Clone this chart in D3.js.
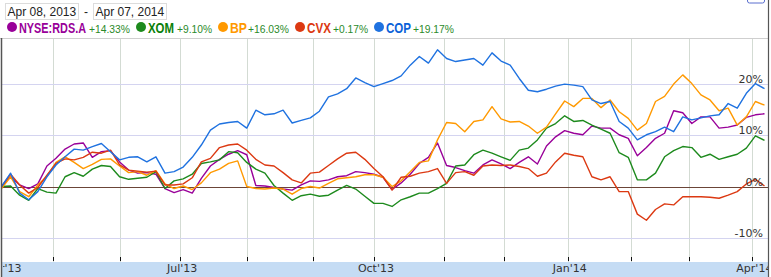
<!DOCTYPE html>
<html>
<head>
<meta charset="utf-8">
<script src="https://cdnjs.cloudflare.com/ajax/libs/d3/7.8.5/d3.min.js"></script>
<style>
  body { margin: 0; background: #fff; }
  svg { display: block; }
</style>
</head>
<body>
<div id="chart"></div>
<script>
// trading-session index of each sample (Apr 08 2013 = 0, every 3rd session)
const days = d3.range(0, 253, 3);

// % change since Apr 08 2013
const rdsa = [0.1, 2.0, 0.4, -0.3, 0.6, 4.1, 5.6, 7.4, 8.4, 8.6,
  5.8, 6.9, 7.1, 4.9, 3.3, 2.7, 2.8, 2.5, -0.3, -1.1,
  -0.5, -1.2, 1.7, 4.1, 5.4, 6.4, 7.1, 6.3, 0.3, 0.2,
  -0.1, -0.4, -0.6, 0.4, 1.2, 1.1, 1.4, 2.0, 2.2, 3.0,
  2.8, 2.5, 1.9, -0.5, 0.8, 2.5, 4.6, 5.8, 8.6, 4.2,
  3.8, 3.2, 2.7, 4.3, 5.3, 4.5, 3.6, 4.8, 5.9, 4.5,
  8.0, 9.8, 11.0, 10.5, 10.2, 11.9, 11.5, 11.5, 10.2, 9.5,
  6.1, 7.7, 9.5, 10.5, 14.9, 14.5, 12.4, 13.7, 13.7, 11.5,
  11.7, 12.1, 13.6, 14.1, 14.3];
const xom = [0.1, 0.2, -1.6, -2.6, -0.3, -1.0, -1.2, 2.0, 2.8, 2.1,
  3.5, 4.2, 4.0, 2.0, 1.5, 1.7, 1.9, 3.0, -0.3, 1.2,
  1.6, 2.5, 4.6, 4.9, 5.3, 6.9, 6.7, 4.8, 3.5, 2.7,
  0.3, -1.2, -2.6, -1.7, -1.4, -1.8, -1.6, -0.6, 0.3, -0.4,
  -1.8, -3.2, -3.2, -3.8, -2.5, -1.9, -1.2, -1.2, -0.3, 0.7,
  4.1, 4.3, 6.3, 7.2, 6.6, 5.9, 5.2, 7.2, 7.6, 9.2,
  11.5, 12.4, 13.9, 12.8, 13.0, 12.1, 11.3, 10.5, 6.7, 5.8,
  1.4, 1.4, 2.7, 5.9, 7.1, 7.9, 7.7, 5.8, 6.4, 5.4,
  5.9, 6.4, 7.6, 10.0, 9.1];
const bp = [-0.3, 2.0, -0.9, -1.9, 0.4, 2.1, 4.8, 5.9, 4.8, 3.6,
  4.4, 5.4, 5.5, 4.1, 2.8, 3.0, 2.3, 3.2, 0.6, -0.3,
  0.2, -0.5, 0.8, 2.8, 3.5, 4.6, 5.1, 0.1, -0.3, -0.4,
  -0.2, -0.4, -1.4, -0.3, 0.1, -0.2, 0.7, 1.6, 1.8, 2.0,
  2.4, 2.4, 1.9, 0.1, 1.2, 3.0, 4.8, 5.1, 9.2, 12.6,
  12.4, 10.8, 12.8, 13.1, 15.7, 13.3, 12.7, 12.8, 11.9, 10.5,
  11.7, 14.3, 16.8, 15.7, 17.3, 17.3, 15.5, 17.0, 14.7, 13.4,
  11.1, 12.4, 16.7, 17.7, 20.1, 21.9, 20.2, 18.0, 17.0, 14.9,
  15.4, 12.1, 13.7, 16.7, 16.0];
const cvx = [0.1, 2.5, 0.4, -1.2, -0.1, 2.3, 4.6, 5.5, 5.3, 5.8,
  6.8, 6.6, 7.2, 4.3, 3.3, 3.1, 2.9, 3.1, 0.4, 0.4,
  0.6, 1.8, 4.9, 5.6, 7.7, 8.2, 8.4, 7.2, 5.4, 4.3,
  4.1, 2.8, 1.4, 0.8, 2.7, 2.9, 4.2, 5.5, 6.6, 6.8,
  5.4, 3.6, 2.0, -0.6, 1.9, 2.1, 2.7, 3.0, 3.6, 0.7,
  2.8, 3.0, 2.3, 4.1, 4.3, 4.2, 4.3, 4.0, 3.6, 2.1,
  2.7, 4.9, 6.6, 6.2, 5.9, 2.0, 1.4, 2.0, -0.9, -0.9,
  -5.3, -6.5, -4.4, -3.3, -3.5, -1.9, -1.9, -1.9, -2.0, -2.2,
  -1.6, -0.9, 0.6, 1.5, 0.2];
const cop = [0.1, 2.7, -1.2, -2.5, -0.9, 2.0, 4.3, 5.9, 7.4, 7.2,
  7.9, 8.5, 6.9, 5.3, 5.8, 5.9, 4.9, 5.9, 2.7, 3.0,
  3.9, 5.8, 8.2, 11.1, 12.3, 12.6, 12.8, 11.5, 15.0, 14.1,
  14.3, 15.0, 12.5, 13.0, 13.5, 14.8, 17.6, 18.2, 19.2, 21.3,
  20.4, 19.6, 20.2, 20.8, 21.7, 23.8, 25.5, 24.2, 26.8, 25.1,
  24.5, 24.8, 25.1, 23.8, 26.2, 24.6, 23.8, 21.2, 18.9, 18.6,
  19.1, 19.7, 20.1, 19.9, 19.6, 17.0, 16.3, 16.7, 12.8, 11.5,
  9.2, 10.2, 10.8, 11.7, 10.8, 13.7, 13.1, 13.5, 13.9, 14.1,
  16.3, 15.4, 18.3, 20.2, 19.2];

const names = ["NYSE:RDS.A", "XOM", "BP", "CVX", "COP"];
const changes = ["+14.33%", "+9.10%", "+16.03%", "+0.17%", "+19.17%"];
const colors = ["#990099", "#1d8a1d", "#ff9900", "#dc3912", "#1f72e0"];
const textColors = ["#990099", "#0a7f0a", "#ff9900", "#dc3912", "#0b62d8"];

// first session of each month, and quarter labels
const monthStarts = [0, 17, 39, 59, 81, 103, 123, 146, 166, 187, 208, 227, 248];
const quarterTicks = [0, 59, 123, 187, 248];
const quarterLabels = ["Apr'13", "Jul'13", "Oct'13", "Jan'14", "Apr'14"];
const yTicks = [20, 10, 0, -10];

const dateFrom = "Apr 08, 2013";
const dateTo = "Apr 07, 2014";

const width = 771, height = 277;
const plotTop = 38, plotBottom = 262, plotLeft = 2, plotRight = 768;

let svg = d3.select("#chart").append("svg")
  .attr("width", width)
  .attr("height", height);

let x = d3.scaleLinear().domain([0, 252]).range([1.5, 764.5]);
let y = d3.scaleLinear().domain([-10, 20]).range([238.2, 84.6]);

let defs = svg.append("defs");
defs.append("clipPath").attr("id", "plot")
  .append("rect")
  .attr("x", plotLeft).attr("y", plotTop)
  .attr("width", plotRight - plotLeft).attr("height", plotBottom - plotTop);
defs.append("clipPath").attr("id", "band")
  .append("rect").attr("x", 3).attr("y", plotBottom)
  .attr("width", plotRight - 3).attr("height", 20);

// date range boxes
let hdr = svg.append("g").style("font-family", "'Liberation Sans', Arial, sans-serif").style("font-size", "12px");
[[5, dateFrom], [93, dateTo]].forEach(([bx, t]) => {
  hdr.append("rect").attr("x", bx + 0.5).attr("y", 3.5).attr("width", 73).attr("height", 16)
    .attr("fill", "#fff").attr("stroke", "#dcdcdc");
  hdr.append("text").attr("x", bx + 2.5).attr("y", 16).attr("fill", "#222").text(t);
});
hdr.append("text").attr("x", 84).attr("y", 16).attr("fill", "#222").text("-");

// partial button at top right
svg.append("rect").attr("x", 747.5).attr("y", -8).attr("width", 17).attr("height", 11)
  .attr("rx", 2).attr("fill", "#fff").attr("stroke", "#5a6fcf");

// legend
const legendPos = [
  { cx: 12, nx: 19, nw: 67, px: 89, pw: 41 },
  { cx: 141, nx: 148, nw: 26, px: 177, pw: 35 },
  { cx: 223, nx: 230, nw: 17, px: 248, pw: 41 },
  { cx: 300, nx: 307, nw: 24, px: 333, pw: 35 },
  { cx: 379, nx: 386, nw: 25, px: 413, pw: 41 }
];
let legend = svg.append("g");
names.forEach((n, i) => {
  let p = legendPos[i];
  legend.append("circle").attr("cx", p.cx).attr("cy", 27).attr("r", 5).attr("fill", colors[i]);
  legend.append("text").attr("x", p.nx).attr("y", 32.5)
    .attr("textLength", p.nw).attr("lengthAdjust", "spacingAndGlyphs")
    .style("font-family", "'Liberation Sans Narrow', 'Arial Narrow', 'Liberation Sans', sans-serif")
    .style("font-size", "14px").style("font-weight", "bold")
    .attr("fill", textColors[i]).text(n);
  legend.append("text").attr("x", p.px).attr("y", 32.5)
    .attr("textLength", p.pw).attr("lengthAdjust", "spacingAndGlyphs")
    .style("font-family", "'Liberation Sans', Arial, sans-serif")
    .style("font-size", "11px")
    .attr("fill", "#2a8a2a").text(changes[i]);
});

// grid
let grid = svg.append("g");
grid.selectAll("line.v").data(monthStarts.slice(1)).enter().append("line")
  .attr("x1", d => Math.round(x(d)) + 0.5).attr("x2", d => Math.round(x(d)) + 0.5)
  .attr("y1", plotTop).attr("y2", plotBottom)
  .attr("stroke", "#d3dbd3").attr("stroke-width", 1);
grid.selectAll("line.h").data(yTicks.filter(d => d !== 0)).enter().append("line")
  .attr("x1", plotLeft).attr("x2", plotRight)
  .attr("y1", d => Math.floor(y(d)) + 0.5).attr("y2", d => Math.floor(y(d)) + 0.5)
  .attr("stroke", "#d4d4f0").attr("stroke-width", 1);
grid.append("line")
  .attr("x1", plotLeft).attr("x2", plotRight)
  .attr("y1", Math.floor(y(0)) + 0.5).attr("y2", Math.floor(y(0)) + 0.5)
  .attr("stroke", "#6b4538").attr("stroke-width", 1);
svg.append("line").attr("x1", 0).attr("x2", plotRight)
  .attr("y1", plotTop + 0.5).attr("y2", plotTop + 0.5)
  .attr("stroke", "#cfcfcf");

// series lines
const series = [rdsa, xom, bp, cvx, cop];
let line = d3.line().x((d, i) => x(days[i])).y(d => y(d));
let lines = svg.append("g").attr("clip-path", "url(#plot)");
series.forEach((s, i) => {
  lines.append("path").datum(s)
    .attr("d", line)
    .attr("fill", "none")
    .attr("stroke", colors[i])
    .attr("stroke-width", 1.4)
    .attr("stroke-linejoin", "round");
});

// y labels on the right
svg.append("g").selectAll("text").data(yTicks).enter().append("text")
  .attr("x", 763).attr("y", d => Math.floor(y(d)) - 1)
  .attr("text-anchor", "end")
  .style("font-family", "'DejaVu Sans', Verdana, sans-serif")
  .style("font-size", "11px")
  .attr("fill", "#333")
  .text(d => d + "%");

// bottom axis band
svg.append("rect").attr("x", plotLeft).attr("y", plotBottom)
  .attr("width", plotRight - plotLeft).attr("height", height - plotBottom)
  .attr("fill", "#c5dcf4");
let xAxis = d3.axisBottom(x).tickValues(monthStarts.slice(1)).tickSize(4).tickFormat("");
let axisG = svg.append("g").attr("transform", `translate(0,${plotBottom - 5})`).call(xAxis);
axisG.select(".domain").remove();
axisG.selectAll(".tick line").attr("stroke", "#111");
axisG.selectAll(".tick").attr("transform", d => `translate(${Math.round(x(d)) + 0.5},0)`);

svg.append("g").attr("clip-path", "url(#band)")
  .selectAll("text").data(quarterTicks).enter().append("text")
  .attr("x", d => x(d) + 2).attr("y", 272)
  .attr("text-anchor", "middle")
  .style("font-family", "'DejaVu Sans', Verdana, sans-serif")
  .style("font-size", "11px")
  .attr("fill", "#333")
  .text((d, i) => quarterLabels[i]);

// frame
svg.append("line").attr("x1", 1.5).attr("x2", 1.5).attr("y1", plotTop).attr("y2", height)
  .attr("stroke", "#555").attr("stroke-width", 1.5);
svg.append("line").attr("x1", 768.5).attr("x2", 768.5).attr("y1", 0).attr("y2", height)
  .attr("stroke", "#555").attr("stroke-width", 1.2);
</script>
</body>
</html>
